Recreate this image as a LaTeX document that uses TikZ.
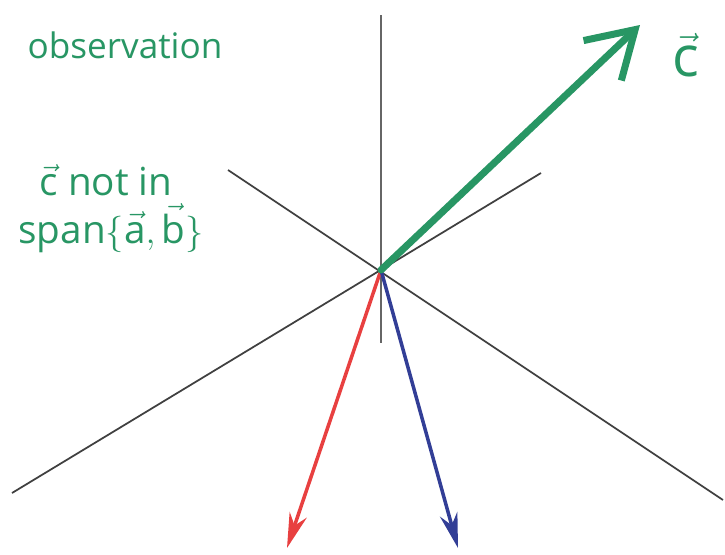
\documentclass[tikz,border=0pt]{standalone}
\usepackage{fontspec}
\setmainfont{Open Sans}
\usetikzlibrary{arrows.meta}
\definecolor{obsgreen}{RGB}{40,150,100}
\definecolor{vred}{RGB}{232,64,64}
\definecolor{vblue}{RGB}{50,62,150}
\begin{document}
\begin{tikzpicture}[>=Stealth,font=\small]
\useasboundingbox (-7.62,-5.68) rectangle (6.88,5.4);
\tikzstyle{ax}=[draw=black!75,line width=1pt]
\tikzstyle{vec}=[line width=2pt,-{Stealth[length=7mm,width=3.6mm]}]
\tikzstyle{lbl}=[text=obsgreen,font=\fontsize{20}{24}\selectfont]
\coordinate (o) at (0,0);
\coordinate (vt) at (0,5.1); \coordinate (vb) at (0,-1.46);
\coordinate (l1a) at (-3.06,2.0); \coordinate (l1b) at (6.84,-4.6);
\coordinate (l2a) at (-7.38,-4.46); \coordinate (l2b) at (3.2,1.94);
\coordinate (ta) at (-1.88,-5.56); \coordinate (tb) at (1.54,-5.56); \coordinate (tc) at (5.18,4.9);
\draw[ax,draw=black!60,line width=0.8pt] (vt) -- (vb); \draw[ax] (l1a) -- (l1b); \draw[ax] (l2a) -- (l2b);
\draw[vec,vred] (o) -- (ta); \draw[vec,vblue] (o) -- (tb);
\draw[obsgreen,line width=4pt,line cap=round,-{Straight Barb[length=9mm,width=11mm,line width=4pt]}] (o) -- (tc);
\node[lbl] (obs) at (-5.12,4.5) {observation};
\node[lbl,font=\fontsize{22}{26}\selectfont] (cnot) at (-5.5,1.8) {$\vec{\mathrm{c}}$ not in};
\node[lbl,font=\fontsize{22}{26}\selectfont] (span) at (-5.4,0.84) {span$\{\vec{\mathrm{a}},\vec{\mathrm{b}}\}$};
\node[lbl,font=\fontsize{32}{36}\selectfont] (clbl) at (6.1,4.3) {$\vec{\mathrm{c}}$};
\end{tikzpicture}
\end{document}
